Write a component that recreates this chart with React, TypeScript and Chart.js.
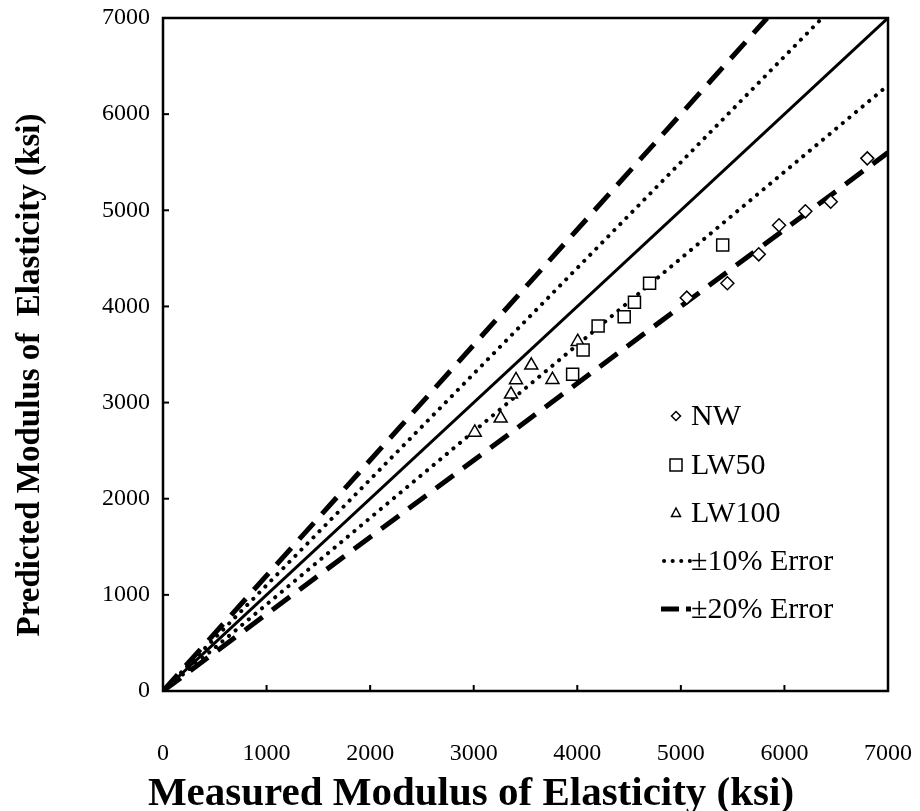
import React, { useEffect, useRef } from "react";
import { Chart, registerables } from "chart.js";
Chart.register(...registerables);

const axisTicks = [0, 1000, 2000, 3000, 4000, 5000, 6000, 7000];

const nwMeasured = [5057, 5449, 5752, 5948, 6202, 6447, 6800];
const nwPredicted = [4091, 4241, 4542, 4844, 4989, 5089, 5540];

const lw50Measured = [3955, 4056, 4201, 4453, 4552, 4698, 5404];
const lw50Predicted = [3294, 3547, 3797, 3893, 4043, 4241, 4640];

const lw100Measured = [3010, 3260, 3360, 3408, 3556, 3760, 4004];
const lw100Predicted = [2690, 2836, 3086, 3236, 3388, 3238, 3633];

const equalityX = [0, 7000];
const equalityY = [0, 7000];
const plus10X = [0, 6364];
const plus10Y = [0, 7000];
const minus10X = [0, 7000];
const minus10Y = [0, 6300];
const plus20X = [0, 5833];
const plus20Y = [0, 7000];
const minus20X = [0, 7000];
const minus20Y = [0, 5600];

const legendLabels = ["NW", "LW50", "LW100", "±10% Error", "±20% Error"];
const xTitle = "Measured Modulus of Elasticity (ksi)";
const yTitle = "Predicted Modulus of  Elasticity (ksi)";

const pts = (xs: number[], ys: number[]) => xs.map((x, i) => ({ x, y: ys[i] }));

const SERIF = "'Liberation Serif', 'Times New Roman', serif";
const W = 904;
const H = 803;

function drawMarker(ctx: CanvasRenderingContext2D, kind: string, x: number, y: number, r: number) {
  ctx.save();
  ctx.strokeStyle = "#000";
  ctx.fillStyle = "#fff";
  ctx.lineWidth = 1.5;
  ctx.beginPath();
  if (kind === "diamond") {
    ctx.moveTo(x, y - r);
    ctx.lineTo(x + r, y);
    ctx.lineTo(x, y + r);
    ctx.lineTo(x - r, y);
    ctx.closePath();
  } else if (kind === "square") {
    ctx.rect(x - r, y - r, 2 * r, 2 * r);
  } else {
    ctx.moveTo(x, y - r);
    ctx.lineTo(x + r * 0.9, y + r * 0.7);
    ctx.lineTo(x - r * 0.9, y + r * 0.7);
    ctx.closePath();
  }
  ctx.fill();
  ctx.stroke();
  ctx.restore();
}

const decorPlugin = {
  id: "decor",
  afterDraw(chart: any) {
    const { ctx, chartArea } = chart;
    const xs = chart.scales.x;
    const ys = chart.scales.y;
    ctx.save();
    ctx.strokeStyle = "#000";
    ctx.lineWidth = 2;
    axisTicks.forEach((v) => {
      const px = xs.getPixelForValue(v);
      ctx.beginPath();
      ctx.moveTo(px, chartArea.bottom);
      ctx.lineTo(px, chartArea.bottom - 6);
      ctx.stroke();
      const py = ys.getPixelForValue(v);
      ctx.beginPath();
      ctx.moveTo(chartArea.left, py);
      ctx.lineTo(chartArea.left + 6, py);
      ctx.stroke();
    });
    ctx.lineWidth = 2.5;
    ctx.strokeRect(chartArea.left, chartArea.top, chartArea.right - chartArea.left, chartArea.bottom - chartArea.top);

    const lx = 668;
    const tx = 683;
    const rows = [408, 457, 505, 553, 601];
    ctx.font = `30px ${SERIF}`;
    ctx.fillStyle = "#000";
    ctx.textBaseline = "middle";
    ctx.textAlign = "left";
    drawMarker(ctx, "diamond", lx, rows[0], 4.5);
    drawMarker(ctx, "square", lx, rows[1], 6);
    drawMarker(ctx, "triangle", lx, rows[2], 5);
    ctx.save();
    ctx.lineCap = "round";
    ctx.lineWidth = 4;
    ctx.setLineDash([0.1, 8.5]);
    ctx.beginPath();
    ctx.moveTo(656, rows[3]);
    ctx.lineTo(683, rows[3]);
    ctx.stroke();
    ctx.setLineDash([18, 7]);
    ctx.lineCap = "butt";
    ctx.lineWidth = 5;
    ctx.beginPath();
    ctx.moveTo(653, rows[4]);
    ctx.lineTo(683, rows[4]);
    ctx.stroke();
    ctx.restore();
    legendLabels.forEach((t, i) => ctx.fillText(t, tx, rows[i] + 1));

    ctx.textAlign = "center";
    ctx.textBaseline = "alphabetic";
    ctx.font = `bold 41px ${SERIF}`;
    ctx.fillText(xTitle, 463, 797);
    ctx.font = `bold 33px ${SERIF}`;
    ctx.textBaseline = "middle";
    ctx.save();
    ctx.translate(22, 367);
    ctx.rotate(-Math.PI / 2);
    ctx.fillText(yTitle, 0, 0);
    ctx.restore();
    ctx.restore();
  },
};

const zeroPad = (s: any) => {
  s.paddingTop = 0;
  s.paddingBottom = 0;
  s.paddingLeft = 0;
  s.paddingRight = 0;
};

export default function App() {
  const ref = useRef<HTMLCanvasElement>(null);
  useEffect(() => {
    if (!ref.current) return;
    const lineDs = (label: string, xsv: number[], ysv: number[], width: number, dash: number[], cap: any) => ({
      type: "line" as const,
      label,
      data: pts(xsv, ysv),
      showLine: true,
      borderColor: "#000",
      borderWidth: width,
      borderDash: dash,
      borderCapStyle: cap,
      pointRadius: 0,
      fill: false,
    });
    const markerDs = (label: string, xsv: number[], ysv: number[], style: string, r: number) => ({
      type: "scatter" as const,
      label,
      data: pts(xsv, ysv),
      pointStyle: style,
      pointRadius: r,
      pointBorderColor: "#000",
      pointBackgroundColor: "#fff",
      pointBorderWidth: 1.5,
      showLine: false,
    });
    const chart = new Chart(ref.current, {
      type: "scatter",
      data: {
        datasets: [
          markerDs("NW", nwMeasured, nwPredicted, "rectRot", 6.5),
          markerDs("LW50", lw50Measured, lw50Predicted, "rect", 8.5),
          markerDs("LW100", lw100Measured, lw100Predicted, "triangle", 7.5),
          lineDs("1:1", equalityX, equalityY, 3, [], "butt"),
          lineDs("+10%", plus10X, plus10Y, 4, [0.1, 8.5], "round"),
          lineDs("-10%", minus10X, minus10Y, 4, [0.1, 8.5], "round"),
          lineDs("+20%", plus20X, plus20Y, 5, [22, 12], "butt"),
          lineDs("-20%", minus20X, minus20Y, 5, [22, 12], "butt"),
        ] as any,
      },
      options: {
        animation: false,
        responsive: false,
        layout: { padding: { left: 0, right: 24, top: 10, bottom: 0 } },
        plugins: { legend: { display: false }, tooltip: { enabled: false } },
        scales: {
          x: {
            type: "linear",
            min: 0,
            max: 7000,
            afterFit: (s: any) => { s.height = H - 683; zeroPad(s); },
            afterBuildTicks: (s: any) => { s.ticks = axisTicks.map((v) => ({ value: v })); },
            grid: { display: false, drawTicks: false },
            border: { display: false },
            ticks: { color: "#000", font: { family: SERIF, size: 24 }, padding: 48, maxRotation: 0, callback: (v: any) => String(v) },
          },
          y: {
            type: "linear",
            min: 0,
            max: 7000,
            afterFit: (s: any) => { s.width = 155; zeroPad(s); },
            afterBuildTicks: (s: any) => { s.ticks = axisTicks.map((v) => ({ value: v })); },
            grid: { display: false, drawTicks: false },
            border: { display: false },
            ticks: { color: "#000", font: { family: SERIF, size: 24 }, padding: 13, callback: (v: any) => String(v) },
          },
        },
      },
      plugins: [decorPlugin],
    });
    return () => chart.destroy();
  }, []);
  return (
    <div style={{ width: W, height: H }}>
      <canvas ref={ref} width={W} height={H} style={{ width: W, height: H, display: "block" }} />
    </div>
  );
}
